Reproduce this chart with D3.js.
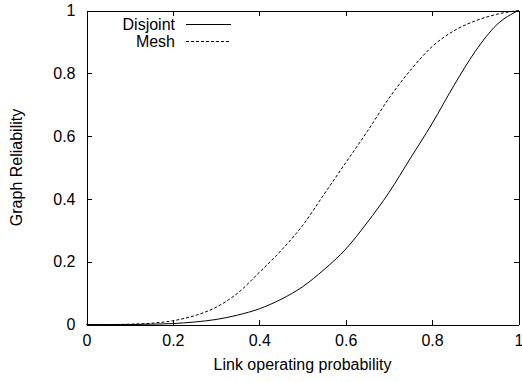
<!DOCTYPE html>
<html>
<head>
<meta charset="utf-8">
<script src="https://cdn.jsdelivr.net/npm/d3@7"></script>
<style>
  body { margin: 0; background: #fff; }
  text { font-family: "Liberation Sans", Arial, sans-serif; font-size: 16px; fill: #000; }
</style>
</head>
<body>
<div id="chart"></div>
<script>
const W = 522, H = 382;
const margin = { left: 86.5, right: 3.5, top: 10.5, bottom: 57.5 };

// link operating probability (x)
const probs = [0, 0.05, 0.1, 0.15, 0.2, 0.25, 0.3, 0.35, 0.4, 0.45, 0.5,
               0.55, 0.6, 0.65, 0.7, 0.75, 0.8, 0.85, 0.9, 0.95, 1];
// graph reliability
const disjoint = [0, 0, 0, 0.001, 0.003, 0.008, 0.016, 0.03, 0.05, 0.08, 0.12,
                  0.175, 0.24, 0.325, 0.42, 0.53, 0.64, 0.76, 0.87, 0.955, 1];
const mesh = [0, 0, 0.001, 0.004, 0.012, 0.028, 0.055, 0.1, 0.166, 0.235, 0.315,
              0.415, 0.515, 0.615, 0.72, 0.81, 0.885, 0.935, 0.967, 0.988, 1];
const seriesNames = ["Disjoint", "Mesh"];
const tickVals = [0, 0.2, 0.4, 0.6, 0.8, 1];

const svg = d3.select("#chart").append("svg")
    .attr("width", W)
    .attr("height", H);

const x = d3.scaleLinear().domain([0, 1]).range([margin.left, W - margin.right]);
const y = d3.scaleLinear().domain([0, 1]).range([H - margin.bottom, margin.top]);

const fmt = d => d === 0 || d === 1 ? String(d) : d.toFixed(1);

// axes with inward ticks, mirrored on top and right
svg.append("g")
    .attr("transform", `translate(0,${y(0)})`)
    .call(d3.axisBottom(x).tickValues(tickVals).tickFormat(fmt).tickSizeInner(-5).tickSizeOuter(0).tickPadding(10))
    .call(g => g.selectAll("text").attr("dy", "0.71em"));
svg.append("g")
    .attr("transform", `translate(0,${y(1)})`)
    .call(d3.axisTop(x).tickValues(tickVals).tickFormat("").tickSizeInner(-5).tickSizeOuter(0));
svg.append("g")
    .attr("transform", `translate(${x(0)},0)`)
    .call(d3.axisLeft(y).tickValues(tickVals).tickFormat(fmt).tickSizeInner(-5).tickSizeOuter(0).tickPadding(11));
svg.append("g")
    .attr("transform", `translate(${x(1)},0)`)
    .call(d3.axisRight(y).tickValues(tickVals).tickFormat("").tickSizeInner(-5).tickSizeOuter(0));

svg.selectAll(".domain").attr("stroke", "#000").attr("shape-rendering", "crispEdges");
svg.selectAll(".tick line").attr("stroke", "#000").attr("shape-rendering", "crispEdges");
svg.selectAll(".tick text").style("font-size", "16px").attr("fill", "#000")
    .style("font-family", "'Liberation Sans', Arial, sans-serif");

// curves
const line = d3.line()
    .x((d, i) => x(probs[i]))
    .y(d => y(d))
    .curve(d3.curveMonotoneX);

const dashes = [null, "3,2"];
[disjoint, mesh].forEach((s, k) => {
    svg.append("path")
        .datum(s)
        .attr("d", line)
        .attr("fill", "none")
        .attr("stroke", "#000")
        .attr("stroke-width", 1)
        .attr("stroke-dasharray", dashes[k]);
});

// legend
const leg = svg.append("g");
seriesNames.forEach((name, k) => {
    const ly = 24 + k * 17;
    leg.append("text")
        .attr("x", 175)
        .attr("y", ly)
        .attr("dy", "0.35em")
        .attr("text-anchor", "end")
        .text(name);
    leg.append("line")
        .attr("x1", 186).attr("x2", 231)
        .attr("y1", ly + 0.5).attr("y2", ly + 0.5)
        .attr("stroke", "#000")
        .attr("stroke-dasharray", dashes[k]);
});

// axis titles
svg.append("text")
    .attr("x", (x(0) + x(1)) / 2)
    .attr("y", 370)
    .attr("text-anchor", "middle")
    .text("Link operating probability");

svg.append("text")
    .attr("transform", `translate(22,${(y(0) + y(1)) / 2}) rotate(-90)`)
    .attr("text-anchor", "middle")
    .text("Graph Reliability");
</script>
</body>
</html>
